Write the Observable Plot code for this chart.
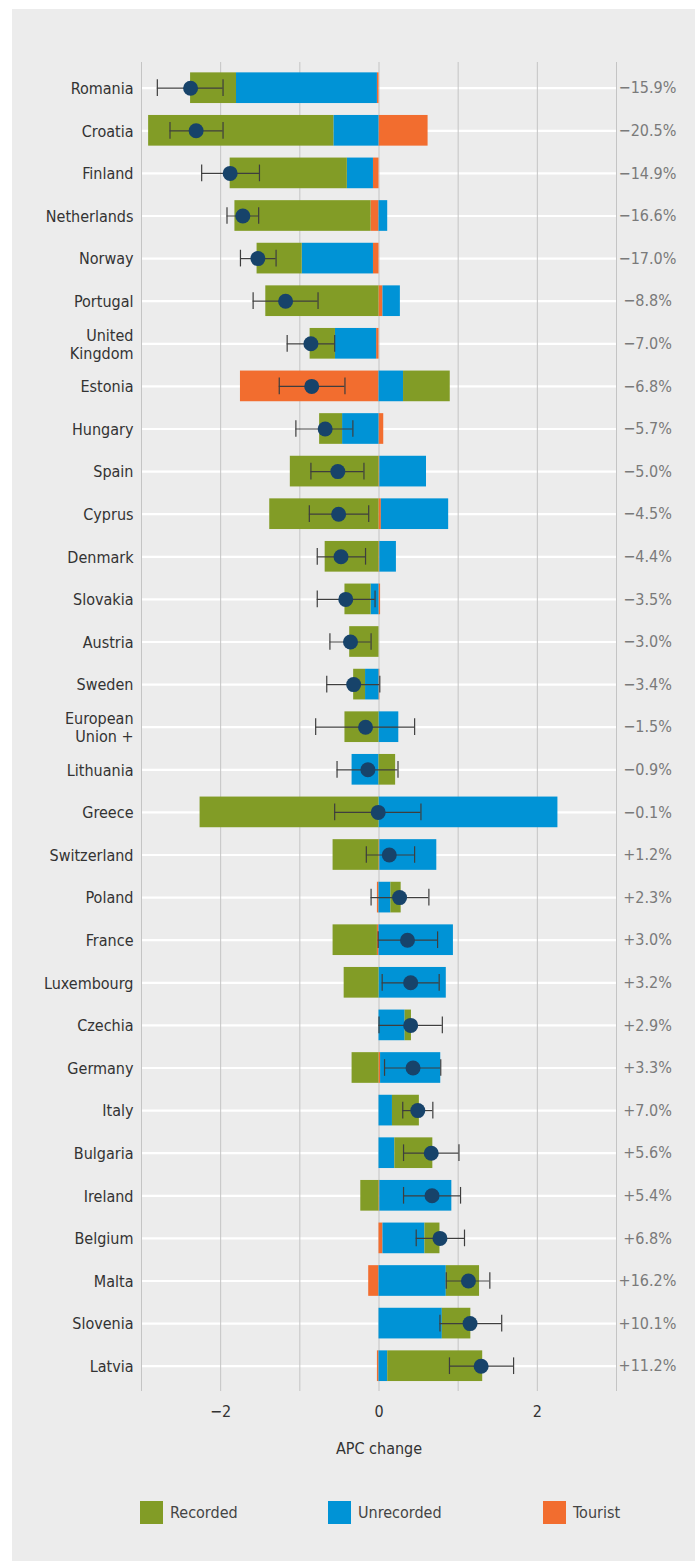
<!DOCTYPE html>
<html><head><meta charset="utf-8">
<script src="https://cdn.jsdelivr.net/npm/d3@7"></script>
<script src="https://cdn.jsdelivr.net/npm/@observablehq/plot@0.6"></script>
<style>
body{margin:0;background:#fff;}
#panel{position:absolute;left:12px;top:9px;width:683px;height:1552px;background:#ececec;}
#chart{position:absolute;left:0;top:0;}
#legend{position:absolute;top:1501px;left:0;width:695px;height:23px;font-family:"DejaVu Sans Condensed","Liberation Sans Narrow","DejaVu Sans",sans-serif;font-stretch:condensed;font-size:16px;}
.sw{position:absolute;top:0;width:23px;height:23px;}
.lb{position:absolute;top:0;line-height:23px;color:#444;white-space:nowrap;}
</style></head>
<body><div id="panel"></div><div id="chart"></div><div id="legend"></div>
<script>
const countries = ["Romania","Croatia","Finland","Netherlands","Norway","Portugal","United Kingdom","Estonia","Hungary","Spain","Cyprus","Denmark","Slovakia","Austria","Sweden","European Union +","Lithuania","Greece","Switzerland","Poland","France","Luxembourg","Czechia","Germany","Italy","Bulgaria","Ireland","Belgium","Malta","Slovenia","Latvia"];
const recorded   = [-0.58,-2.34,-1.48,-1.72,-0.57,-1.43,-0.32, 0.59,-0.29,-1.12,-1.38,-0.68,-0.33,-0.37,-0.15,-0.43, 0.21,-2.26,-0.58, 0.13,-0.56,-0.44, 0.08,-0.34, 0.34, 0.48,-0.23, 0.19, 0.42, 0.36, 1.20];
const unrecorded = [-1.78,-0.57,-0.33, 0.11,-0.90, 0.22,-0.52, 0.31,-0.46, 0.59, 0.85, 0.21,-0.10, 0.00,-0.17, 0.25,-0.34, 2.26, 0.72, 0.15, 0.94, 0.85, 0.33, 0.76, 0.17, 0.20, 0.91, 0.53, 0.85, 0.80, 0.11];
const tourist    = [-0.02, 0.62,-0.07,-0.10,-0.07, 0.05,-0.03,-1.75, 0.06, 0.01, 0.03, 0.01, 0.02, 0.00, 0.01, 0.00, 0.00, 0.00, 0.01,-0.02,-0.02, 0.00, 0.00, 0.02, 0.00, 0.00, 0.01, 0.05,-0.13, 0.00,-0.02];
const apc        = [-2.38,-2.31,-1.88,-1.72,-1.53,-1.18,-0.86,-0.85,-0.68,-0.52,-0.51,-0.48,-0.42,-0.36,-0.32,-0.17,-0.14,-0.01, 0.13, 0.26, 0.36, 0.40, 0.40, 0.43, 0.49, 0.66, 0.67, 0.77, 1.13, 1.15, 1.29];
const apcLow     = [-2.80,-2.64,-2.24,-1.92,-1.75,-1.59,-1.16,-1.26,-1.05,-0.86,-0.88,-0.78,-0.78,-0.62,-0.66,-0.80,-0.53,-0.56,-0.16,-0.10,-0.01, 0.04, 0.00, 0.07, 0.30, 0.31, 0.31, 0.47, 0.85, 0.77, 0.89];
const apcHigh    = [-1.97,-1.97,-1.51,-1.52,-1.30,-0.77,-0.56,-0.43,-0.33,-0.19,-0.13,-0.17,-0.05,-0.10, 0.01, 0.45, 0.24, 0.53, 0.45, 0.63, 0.74, 0.76, 0.80, 0.78, 0.68, 1.01, 1.03, 1.08, 1.40, 1.55, 1.70];
const pctLabels  = ["−15.9%","−20.5%","−14.9%","−16.6%","−17.0%","−8.8%","−7.0%","−6.8%","−5.7%","−5.0%","−4.5%","−4.4%","−3.5%","−3.0%","−3.4%","−1.5%","−0.9%","−0.1%","+1.2%","+2.3%","+3.0%","+3.2%","+2.9%","+3.3%","+7.0%","+5.6%","+5.4%","+6.8%","+16.2%","+10.1%","+11.2%"];
const countryLabels = {"United Kingdom":"United\nKingdom","European Union +":"European\nUnion +"};
const types  = ["Recorded","Unrecorded","Tourist"];
const colors = ["#829c26","#0093d6","#f26d2f"];
const gridTicks = [-3,-2,-1,0,1,2,3];
const axisTicks = [-2,0,2];
const xTitle = "APC change";

const FONT = '"DejaVu Sans Condensed","Liberation Sans Narrow","DejaVu Sans",sans-serif';

const rows = [];
countries.forEach((c,i)=>{
  rows.push({country:c, type:"Tourist", value:tourist[i]});
  rows.push({country:c, type:"Unrecorded", value:unrecorded[i]});
  rows.push({country:c, type:"Recorded", value:recorded[i]});
});
const pts = countries.map((c,i)=>({country:c, apc:apc[i], lo:apcLow[i], hi:apcHigh[i], pct:pctLabels[i]}));
const fmt = d => d < 0 ? "−" + Math.abs(d) : String(d);

const chart = Plot.plot({
  width:695, height:1470,
  marginLeft:141, marginRight:79, marginTop:62, marginBottom:79,
  style:{background:"transparent", fontFamily:FONT, fontStretch:"condensed", fontSize:"16px", color:"#333", overflow:"visible"},
  x:{domain:[-3,3]},
  y:{domain:countries, range:[66.4,1387], paddingInner:0.28, paddingOuter:0.14, round:false},
  color:{domain:types, range:colors},
  marks:[
    Plot.ruleY(countries, {y:d=>d, x1:-3, x2:3, stroke:"#ffffff", strokeWidth:2.2}),
    Plot.ruleX(gridTicks, {stroke:"#c4c4c4", strokeWidth:1}),
    Plot.barX(rows, {x:"value", y:"country", fill:"type"}),
    Plot.ruleY(pts, {y:"country", x1:"lo", x2:"hi", stroke:"#3e3e3e", strokeWidth:1.2}),
    Plot.tickX(pts, {x:"lo", y:"country", insetTop:7, insetBottom:7, stroke:"#3e3e3e", strokeWidth:1.2}),
    Plot.tickX(pts, {x:"hi", y:"country", insetTop:7, insetBottom:7, stroke:"#3e3e3e", strokeWidth:1.2}),
    Plot.dot(pts, {x:"apc", y:"country", r:7.5, fill:"#17436a", stroke:"none"}),
    Plot.text(pts, {y:"country", text:"pct", frameAnchor:"right", dx:31, textAnchor:"middle", fill:"#7a7a7a", fontSize:16}),
    Plot.axisY({tickSize:0, tickPadding:8, tickFormat:d=>countryLabels[d] ?? d, fontSize:16, lineHeight:1.15, fill:"#333", label:null}),
    Plot.axisX({ticks:axisTicks, tickSize:0, tickPadding:14, tickFormat:fmt, fontSize:16, fill:"#333", label:null}),
    Plot.text([xTitle], {frameAnchor:"bottom", dy:62, fontSize:16, fill:"#333"})
  ]
});
document.getElementById("chart").appendChild(chart);

const lg = document.getElementById("legend");
const swX = [140, 328, 543];
types.forEach((t,i)=>{
  const s = document.createElement("div"); s.className="sw"; s.style.left=swX[i]+"px"; s.style.background=colors[i]; lg.appendChild(s);
  const l = document.createElement("div"); l.className="lb"; l.style.left=(swX[i]+30)+"px"; l.textContent=t; lg.appendChild(l);
});
</script>
</body></html>
